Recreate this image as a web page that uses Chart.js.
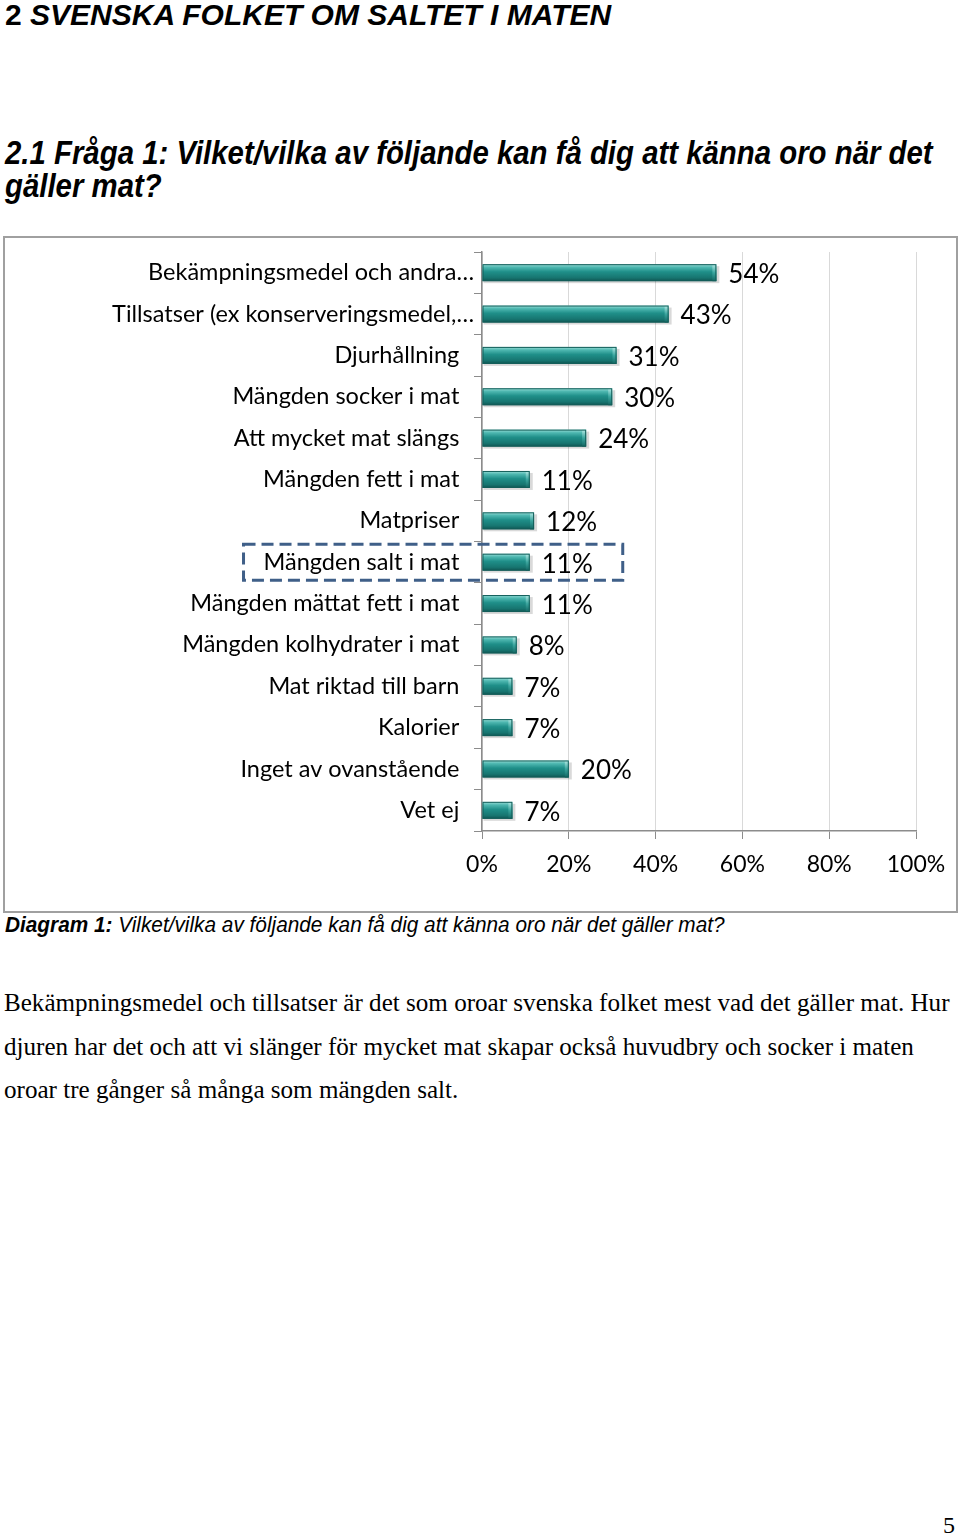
<!DOCTYPE html>
<html>
<head>
<meta charset="utf-8">
<script src="https://cdn.jsdelivr.net/npm/chart.js@4.4.1/dist/chart.umd.min.js"></script>
<style>
  body { margin: 0; background: #fff; width: 960px; height: 1537px; position: relative; overflow: hidden; }
  .h1 { position: absolute; left: 5px; top: -2px; font: bold italic 30px "Liberation Sans", Arial, sans-serif; white-space: nowrap; }
  .h1 span { font-style: normal; }
  .h2 { position: absolute; left: 5px; font: bold italic 33px "Liberation Sans", sans-serif; white-space: nowrap; transform: scaleX(0.89); transform-origin: left top; }
  #box { position: absolute; left: 3px; top: 236px; width: 951px; height: 673px; border: 2px solid #a0a0a0; }
  .cap { position: absolute; left: 5px; top: 912px; font: italic 22px "Liberation Sans", sans-serif; white-space: nowrap; transform: scaleX(0.945); transform-origin: left top; }
  .cap b { font-weight: bold; }
  .body { position: absolute; left: 4px; font: 26px "Liberation Serif", "Times New Roman", serif; white-space: nowrap; transform: scaleX(0.965); transform-origin: left top; }
  .pg { position: absolute; left: 943px; top: 1512px; font: 24px "Liberation Serif", serif; }
</style>
</head>
<body>
<div class="h1"><span>2</span> SVENSKA FOLKET OM SALTET I MATEN</div>
<div class="h2" style="top:134px">2.1 Fråga 1: Vilket/vilka av följande kan få dig att känna oro när det</div>
<div class="h2" style="top:167px">gäller mat?</div>
<div id="box"><canvas id="myChart"></canvas></div>
<div class="cap"><b>Diagram 1:</b> Vilket/vilka av följande kan få dig att känna oro när det gäller mat?</div>
<div class="body" style="top:988px">Bekämpningsmedel och tillsatser är det som oroar svenska folket mest vad det gäller mat. Hur</div>
<div class="body" style="top:1032px">djuren har det och att vi slänger för mycket mat skapar också huvudbry och socker i maten</div>
<div class="body" style="top:1075px">oroar tre gånger så många som mängden salt.</div>
<div class="pg">5</div>
<script>
let categories = [
  "Bekämpningsmedel och andra…",
  "Tillsatser (ex konserveringsmedel,…",
  "Djurhållning",
  "Mängden socker i mat",
  "Att mycket mat slängs",
  "Mängden fett i mat",
  "Matpriser",
  "Mängden salt i mat",
  "Mängden mättat fett i mat",
  "Mängden kolhydrater i mat",
  "Mat riktad till barn",
  "Kalorier",
  "Inget av ovanstående",
  "Vet ej",
];
let values = [54, 43, 31, 30, 24, 11, 12, 11, 11, 8, 7, 7, 20, 7];
let x_ticks = [0, 20, 40, 60, 80, 100];
let highlight = "Mängden salt i mat";

const font_name = "Lato, 'Open Sans', sans-serif";
const label_size = 23.5;

// labels that are not cut off end a bit further left, like in Excel
function label_text(s) {
  return s.endsWith("…") ? s : s + "\u2002\u2009";
}

// 3D-ish teal bars + value labels + dashed box around salt row
let bar_plugin = {
  id: "bar_plugin",
  afterDatasetsDraw(chart) {
    let ctx = chart.ctx;
    let meta = chart.getDatasetMeta(0);
    let xs = chart.scales.x;
    let ys = chart.scales.y;
    meta.data.forEach((bar, i) => {
      let left = bar.base;
      let right = bar.x;
      let top = bar.y - bar.height / 2;
      let h = bar.height;
      ctx.save();
      // shadow
      ctx.fillStyle = "rgba(0,0,0,0.15)";
      ctx.fillRect(left + 1, top + 2, right - left + 2, h);
      let g = ctx.createLinearGradient(0, top, 0, top + h);
      g.addColorStop(0, "#9fe0da");
      g.addColorStop(0.18, "#4fb8b1");
      g.addColorStop(0.45, "#1f8f89");
      g.addColorStop(0.8, "#177570");
      g.addColorStop(1, "#0f5552");
      ctx.fillStyle = g;
      ctx.fillRect(left, top, right - left, h);
      // end cap
      let g2 = ctx.createLinearGradient(0, top, 0, top + h);
      g2.addColorStop(0, "#b5ebe6");
      g2.addColorStop(0.5, "#3aa59e");
      g2.addColorStop(1, "#126662");
      ctx.fillStyle = g2;
      ctx.fillRect(right - 4, top, 4, h);
      ctx.strokeStyle = "#145e5a";
      ctx.lineWidth = 1;
      ctx.strokeRect(left + 0.5, top + 0.5, right - left - 1, h - 1);
      ctx.restore();

      ctx.save();
      ctx.font = "26px " + font_name;
      ctx.fillStyle = "#000";
      ctx.textBaseline = "middle";
      ctx.textAlign = "left";
      let txt = values[i] + "%";
      ctx.fillText(txt, right + 12, bar.y + 2);
      if (categories[i] == highlight) {
        let tw = ctx.measureText(txt).width;
        ctx.font = label_size + "px " + font_name;
        let lw = ctx.measureText(label_text(categories[i])).width;
        let x0 = xs.left - 8 - lw - 20;
        let x1 = right + 12 + tw + 30;
        let y0 = ys.getPixelForValue(i) - 18;
        ctx.strokeStyle = "#3f5f88";
        ctx.lineWidth = 3;
        ctx.setLineDash([12, 6]);
        ctx.strokeRect(x0, y0, x1 - x0, 36);
      }
      ctx.restore();
    });
  },
};

let config = {
  type: "bar",
  data: {
    labels: categories.map(label_text),
    datasets: [
      {
        data: values,
        backgroundColor: "rgba(0,0,0,0)",
        barThickness: 17,
      },
    ],
  },
  options: {
    indexAxis: "y",
    responsive: true,
    maintainAspectRatio: false,
    animation: false,
    layout: { padding: { top: 14, right: 40, left: 0, bottom: 0 } },
    plugins: { legend: { display: false }, tooltip: { enabled: false } },
    scales: {
      x: {
        min: 0,
        max: 100,
        afterBuildTicks: (s) => { s.ticks = x_ticks.map((v) => ({ value: v })); },
        afterFit: (s) => { s.height = 80; s.paddingLeft = 0; s.paddingRight = 0; },
        ticks: {
          callback: (v) => v + "%",
          color: "#000",
          font: { family: font_name, size: 23 },
          padding: 12,
        },
        grid: { color: "#d9d9d9", tickColor: "#8c8c8c", tickLength: 8 },
        border: { color: "#8c8c8c", width: 1.5 },
      },
      y: {
        afterFit: (s) => { s.width = 477; s.paddingTop = 0; s.paddingBottom = 0; },
        ticks: {
          color: "#000",
          font: { family: font_name, size: label_size },
          padding: 0,
        },
        grid: { offset: true, drawOnChartArea: false, tickColor: "#8c8c8c", tickLength: 8 },
        border: { color: "#8c8c8c", width: 1.5 },
      },
    },
  },
  plugins: [bar_plugin],
};

new Chart(document.getElementById("myChart"), config);
</script>
</body>
</html>
